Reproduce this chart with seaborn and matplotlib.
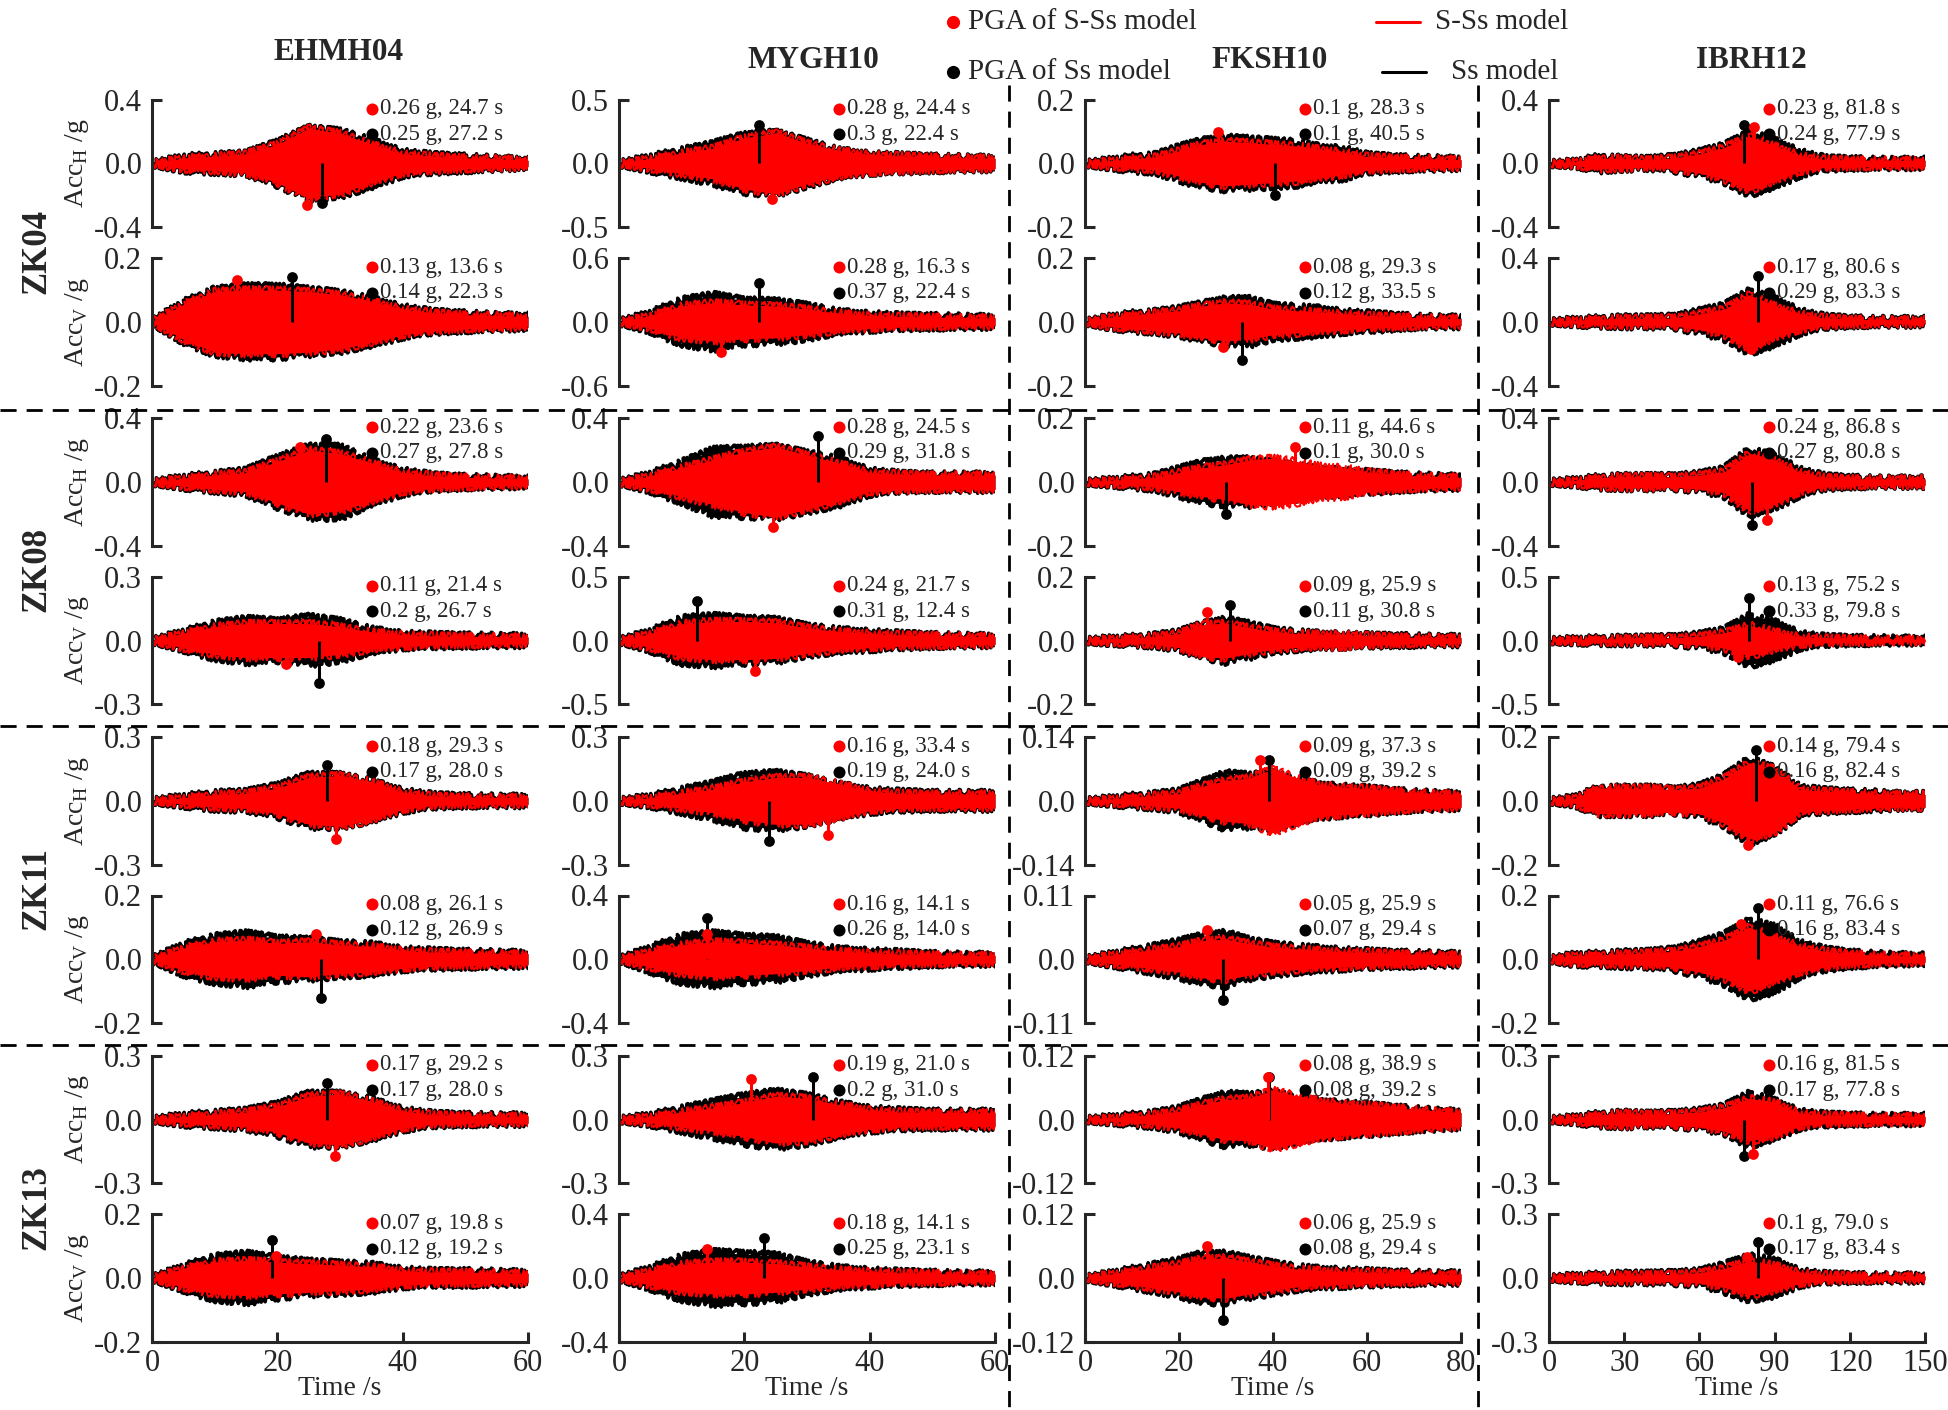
import matplotlib
matplotlib.use('Agg')
import matplotlib.pyplot as plt
import seaborn as sns
import numpy as np

# ---------------- data ----------------
stations = ['EHMH04', 'MYGH10', 'FKSH10', 'IBRH12']
sites = ['ZK04', 'ZK08', 'ZK11', 'ZK13']
t_max = [60, 60, 80, 150]
x_ticks = [[0, 20, 40, 60], [0, 20, 40, 60], [0, 20, 40, 60, 80], [0, 30, 60, 90, 120, 150]]

# envelope sample times (s) for each column
knots_60 = [0, 5, 10, 15, 20, 25, 30, 35, 40, 45, 50, 55, 60]
knots_80 = [0, 5, 10, 15, 20, 25, 30, 35, 40, 45, 50, 55, 60, 65, 70, 75, 80]
knots_150 = [0, 10, 20, 30, 40, 50, 60, 70, 80, 90, 100, 110, 120, 130, 140, 150]

# axis half-ranges (g), rows = sites, cols = stations
ylim_h = [[0.4, 0.5, 0.2, 0.4], [0.4, 0.4, 0.2, 0.4], [0.3, 0.3, 0.14, 0.2], [0.3, 0.3, 0.12, 0.3]]
ylim_v = [[0.2, 0.6, 0.2, 0.4], [0.3, 0.5, 0.2, 0.5], [0.2, 0.4, 0.11, 0.2], [0.2, 0.4, 0.12, 0.3]]

# amplitude envelopes (g), one list per site: ZK04, ZK08, ZK11, ZK13
ehmh04_h_ss = [[0, 0.04, 0.05, 0.06, 0.13, 0.22, 0.2, 0.14, 0.07, 0.05, 0.04, 0.03, 0.02],
               [0, 0.03, 0.05, 0.07, 0.15, 0.22, 0.22, 0.13, 0.07, 0.04, 0.03, 0.025, 0.02],
               [0, 0.02, 0.035, 0.04, 0.07, 0.12, 0.12, 0.09, 0.045, 0.025, 0.02, 0.018, 0.018],
               [0, 0.02, 0.03, 0.04, 0.07, 0.12, 0.12, 0.09, 0.045, 0.025, 0.02, 0.018, 0.018]]
ehmh04_h_sss = [[0, 0.035, 0.045, 0.06, 0.12, 0.22, 0.19, 0.12, 0.06, 0.045, 0.035, 0.03, 0.02],
                [0, 0.025, 0.045, 0.06, 0.13, 0.2, 0.18, 0.12, 0.06, 0.04, 0.03, 0.025, 0.02],
                [0, 0.015, 0.03, 0.035, 0.06, 0.11, 0.12, 0.09, 0.04, 0.022, 0.018, 0.016, 0.016],
                [0, 0.015, 0.025, 0.035, 0.06, 0.11, 0.12, 0.085, 0.04, 0.022, 0.018, 0.016, 0.016]]
ehmh04_v_ss = [[0, 0.06, 0.1, 0.11, 0.11, 0.1, 0.09, 0.07, 0.045, 0.03, 0.025, 0.02, 0.018],
               [0, 0.04, 0.08, 0.1, 0.09, 0.11, 0.09, 0.05, 0.03, 0.025, 0.022, 0.02, 0.018],
               [0, 0.045, 0.07, 0.08, 0.065, 0.06, 0.05, 0.045, 0.03, 0.025, 0.022, 0.02, 0.018],
               [0, 0.035, 0.065, 0.075, 0.06, 0.05, 0.045, 0.04, 0.025, 0.02, 0.02, 0.018, 0.016]]
ehmh04_v_sss = [[0, 0.055, 0.095, 0.1, 0.1, 0.095, 0.085, 0.065, 0.04, 0.028, 0.022, 0.02, 0.015],
                [0, 0.035, 0.065, 0.08, 0.08, 0.08, 0.065, 0.04, 0.028, 0.022, 0.02, 0.018, 0.015],
                [0, 0.035, 0.055, 0.06, 0.05, 0.055, 0.045, 0.04, 0.028, 0.022, 0.02, 0.018, 0.016],
                [0, 0.03, 0.05, 0.055, 0.05, 0.045, 0.04, 0.035, 0.022, 0.018, 0.018, 0.016, 0.014]]

mygh10_h_ss = [[0, 0.05, 0.1, 0.15, 0.22, 0.24, 0.17, 0.1, 0.07, 0.06, 0.05, 0.045, 0.04],
               [0, 0.05, 0.12, 0.2, 0.21, 0.22, 0.18, 0.14, 0.07, 0.05, 0.045, 0.045, 0.045],
               [0, 0.02, 0.05, 0.08, 0.12, 0.13, 0.11, 0.075, 0.05, 0.04, 0.035, 0.035, 0.035],
               [0, 0.02, 0.05, 0.08, 0.11, 0.13, 0.11, 0.075, 0.05, 0.04, 0.035, 0.035, 0.035]]
mygh10_h_sss = [[0, 0.04, 0.08, 0.12, 0.2, 0.24, 0.16, 0.1, 0.07, 0.06, 0.05, 0.045, 0.04],
                [0, 0.04, 0.09, 0.14, 0.19, 0.22, 0.17, 0.12, 0.06, 0.05, 0.045, 0.045, 0.045],
                [0, 0.015, 0.035, 0.055, 0.09, 0.11, 0.11, 0.08, 0.045, 0.035, 0.032, 0.032, 0.032],
                [0, 0.015, 0.035, 0.055, 0.08, 0.11, 0.1, 0.07, 0.045, 0.035, 0.032, 0.032, 0.032]]
mygh10_v_ss = [[0, 0.08, 0.2, 0.25, 0.2, 0.19, 0.15, 0.09, 0.07, 0.055, 0.05, 0.045, 0.04],
               [0, 0.07, 0.17, 0.19, 0.17, 0.16, 0.11, 0.08, 0.065, 0.05, 0.04, 0.035, 0.03],
               [0, 0.07, 0.14, 0.16, 0.14, 0.13, 0.09, 0.06, 0.05, 0.04, 0.03, 0.025, 0.025],
               [0, 0.06, 0.13, 0.16, 0.15, 0.14, 0.09, 0.06, 0.045, 0.035, 0.03, 0.025, 0.025]]
mygh10_v_sss = [[0, 0.06, 0.15, 0.18, 0.16, 0.15, 0.12, 0.08, 0.06, 0.05, 0.045, 0.04, 0.035],
                [0, 0.055, 0.13, 0.15, 0.15, 0.14, 0.1, 0.07, 0.055, 0.045, 0.04, 0.035, 0.03],
                [0, 0.05, 0.09, 0.11, 0.1, 0.09, 0.07, 0.05, 0.04, 0.032, 0.028, 0.024, 0.024],
                [0, 0.045, 0.085, 0.1, 0.1, 0.09, 0.07, 0.05, 0.04, 0.032, 0.028, 0.024, 0.024]]

fksh10_h_ss = [[0, 0.01, 0.02, 0.025, 0.05, 0.07, 0.08, 0.075, 0.07, 0.065, 0.05, 0.045, 0.025, 0.02, 0.016, 0.015, 0.012],
               [0, 0.006, 0.013, 0.02, 0.04, 0.06, 0.07, 0.07, 0.06, 0.05, 0.04, 0.035, 0.03, 0.025, 0.02, 0.018, 0.015],
               [0, 0.005, 0.01, 0.014, 0.02, 0.04, 0.06, 0.055, 0.06, 0.045, 0.035, 0.03, 0.027, 0.022, 0.018, 0.016, 0.014],
               [0, 0.004, 0.008, 0.012, 0.02, 0.035, 0.048, 0.045, 0.05, 0.04, 0.034, 0.03, 0.027, 0.023, 0.019, 0.016, 0.013]]
fksh10_h_sss = [[0, 0.008, 0.015, 0.02, 0.04, 0.06, 0.07, 0.065, 0.06, 0.055, 0.045, 0.035, 0.022, 0.018, 0.015, 0.014, 0.012],
                [0, 0.005, 0.01, 0.016, 0.03, 0.045, 0.055, 0.07, 0.075, 0.065, 0.05, 0.045, 0.032, 0.025, 0.02, 0.018, 0.015],
                [0, 0.004, 0.008, 0.012, 0.016, 0.032, 0.045, 0.05, 0.07, 0.05, 0.035, 0.03, 0.027, 0.022, 0.018, 0.016, 0.014],
                [0, 0.003, 0.006, 0.01, 0.016, 0.028, 0.038, 0.04, 0.055, 0.045, 0.035, 0.03, 0.027, 0.023, 0.019, 0.016, 0.013]]
fksh10_v_ss = [[0, 0.015, 0.025, 0.03, 0.04, 0.055, 0.07, 0.07, 0.05, 0.045, 0.04, 0.03, 0.025, 0.02, 0.015, 0.013, 0.012],
               [0, 0.006, 0.01, 0.015, 0.025, 0.05, 0.065, 0.05, 0.032, 0.025, 0.02, 0.018, 0.015, 0.013, 0.012, 0.01, 0.01],
               [0, 0.008, 0.015, 0.022, 0.03, 0.04, 0.045, 0.032, 0.025, 0.021, 0.018, 0.015, 0.013, 0.011, 0.01, 0.009, 0.008],
               [0, 0.008, 0.016, 0.024, 0.032, 0.045, 0.045, 0.035, 0.027, 0.02, 0.016, 0.014, 0.012, 0.01, 0.009, 0.008, 0.008]]
fksh10_v_sss = [[0, 0.014, 0.022, 0.028, 0.035, 0.05, 0.06, 0.055, 0.04, 0.035, 0.03, 0.025, 0.02, 0.017, 0.014, 0.012, 0.01],
                [0, 0.005, 0.009, 0.013, 0.022, 0.05, 0.055, 0.04, 0.028, 0.022, 0.02, 0.02, 0.015, 0.012, 0.01, 0.01, 0.008],
                [0, 0.007, 0.012, 0.017, 0.022, 0.032, 0.035, 0.027, 0.021, 0.018, 0.015, 0.013, 0.012, 0.01, 0.009, 0.008, 0.007],
                [0, 0.007, 0.013, 0.02, 0.026, 0.036, 0.038, 0.03, 0.023, 0.017, 0.014, 0.012, 0.011, 0.009, 0.008, 0.007, 0.007]]

ibrh12_h_ss = [[0, 0.01, 0.04, 0.03, 0.025, 0.04, 0.07, 0.11, 0.19, 0.14, 0.07, 0.03, 0.025, 0.02, 0.02, 0.02],
               [0, 0.012, 0.03, 0.035, 0.035, 0.035, 0.05, 0.08, 0.2, 0.16, 0.075, 0.035, 0.025, 0.02, 0.02, 0.02],
               [0, 0.01, 0.04, 0.04, 0.04, 0.035, 0.045, 0.075, 0.13, 0.1, 0.04, 0.032, 0.028, 0.025, 0.02, 0.02],
               [0, 0.01, 0.025, 0.03, 0.025, 0.03, 0.04, 0.06, 0.12, 0.085, 0.035, 0.022, 0.018, 0.015, 0.015, 0.015]]
ibrh12_h_sss = [[0, 0.01, 0.035, 0.03, 0.022, 0.035, 0.06, 0.1, 0.17, 0.11, 0.05, 0.025, 0.022, 0.02, 0.02, 0.02],
                [0, 0.01, 0.028, 0.035, 0.035, 0.032, 0.045, 0.065, 0.18, 0.14, 0.06, 0.03, 0.022, 0.02, 0.02, 0.02],
                [0, 0.008, 0.04, 0.04, 0.04, 0.035, 0.04, 0.07, 0.12, 0.1, 0.035, 0.03, 0.026, 0.022, 0.02, 0.02],
                [0, 0.008, 0.022, 0.03, 0.024, 0.028, 0.036, 0.055, 0.1, 0.08, 0.03, 0.02, 0.017, 0.015, 0.015, 0.015]]
ibrh12_v_ss = [[0, 0.012, 0.02, 0.025, 0.025, 0.03, 0.065, 0.1, 0.19, 0.14, 0.065, 0.03, 0.02, 0.015, 0.015, 0.015],
               [0, 0.01, 0.015, 0.018, 0.02, 0.025, 0.045, 0.08, 0.19, 0.14, 0.05, 0.025, 0.018, 0.015, 0.012, 0.012],
               [0, 0.014, 0.016, 0.02, 0.022, 0.03, 0.05, 0.075, 0.12, 0.1, 0.05, 0.03, 0.02, 0.015, 0.012, 0.01],
               [0, 0.01, 0.014, 0.018, 0.018, 0.022, 0.03, 0.06, 0.1, 0.08, 0.03, 0.016, 0.012, 0.01, 0.01, 0.01]]
ibrh12_v_sss = [[0, 0.01, 0.018, 0.022, 0.022, 0.025, 0.05, 0.08, 0.17, 0.1, 0.05, 0.025, 0.018, 0.014, 0.013, 0.013],
                [0, 0.008, 0.012, 0.015, 0.018, 0.02, 0.035, 0.06, 0.12, 0.07, 0.03, 0.018, 0.014, 0.012, 0.01, 0.01],
                [0, 0.012, 0.014, 0.017, 0.02, 0.025, 0.04, 0.06, 0.1, 0.07, 0.04, 0.025, 0.017, 0.013, 0.011, 0.009],
                [0, 0.008, 0.012, 0.015, 0.015, 0.018, 0.025, 0.045, 0.08, 0.06, 0.025, 0.014, 0.011, 0.009, 0.009, 0.009]]

# PGA (g), time (s) and sign of the peak; rows = sites, cols = stations
pga_h_sss = [[0.26, 0.28, 0.1, 0.23], [0.22, 0.28, 0.11, 0.24], [0.18, 0.16, 0.09, 0.14], [0.17, 0.19, 0.08, 0.16]]
tpk_h_sss = [[24.7, 24.4, 28.3, 81.8], [23.6, 24.5, 44.6, 86.8], [29.3, 33.4, 37.3, 79.4], [29.2, 21.0, 38.9, 81.5]]
sgn_h_sss = [[-1, -1, 1, 1], [1, -1, 1, -1], [-1, -1, 1, -1], [-1, 1, 1, -1]]
pga_h_ss = [[0.25, 0.3, 0.1, 0.24], [0.27, 0.29, 0.1, 0.27], [0.17, 0.19, 0.09, 0.16], [0.17, 0.2, 0.08, 0.17]]
tpk_h_ss = [[27.2, 22.4, 40.5, 77.9], [27.8, 31.8, 30.0, 80.8], [28.0, 24.0, 39.2, 82.4], [28.0, 31.0, 39.2, 77.8]]
sgn_h_ss = [[-1, 1, -1, 1], [1, 1, -1, -1], [1, -1, 1, 1], [1, 1, 1, -1]]
pga_v_sss = [[0.13, 0.28, 0.08, 0.17], [0.11, 0.24, 0.09, 0.13], [0.08, 0.16, 0.05, 0.11], [0.07, 0.18, 0.06, 0.1]]
tpk_v_sss = [[13.6, 16.3, 29.3, 80.6], [21.4, 21.7, 25.9, 75.2], [26.1, 14.1, 25.9, 76.6], [19.8, 14.1, 25.9, 79.0]]
sgn_v_sss = [[1, -1, -1, -1], [-1, -1, 1, -1], [1, 1, 1, 1], [1, 1, 1, 1]]
pga_v_ss = [[0.14, 0.37, 0.12, 0.29], [0.2, 0.31, 0.11, 0.33], [0.12, 0.26, 0.07, 0.16], [0.12, 0.25, 0.08, 0.17]]
tpk_v_ss = [[22.3, 22.4, 33.5, 83.3], [26.7, 12.4, 30.8, 79.8], [26.9, 14.0, 29.4, 83.4], [19.2, 23.1, 29.4, 83.4]]
sgn_v_ss = [[1, 1, -1, 1], [-1, 1, 1, 1], [-1, 1, -1, 1], [1, 1, -1, 1]]

knots = [knots_60, knots_60, knots_80, knots_150]
env = {
    'H': {'ss': [ehmh04_h_ss, mygh10_h_ss, fksh10_h_ss, ibrh12_h_ss],
          'sss': [ehmh04_h_sss, mygh10_h_sss, fksh10_h_sss, ibrh12_h_sss]},
    'V': {'ss': [ehmh04_v_ss, mygh10_v_ss, fksh10_v_ss, ibrh12_v_ss],
          'sss': [ehmh04_v_sss, mygh10_v_sss, fksh10_v_sss, ibrh12_v_sss]},
}
peaks = {
    'H': {'ss': (pga_h_ss, tpk_h_ss, sgn_h_ss), 'sss': (pga_h_sss, tpk_h_sss, sgn_h_sss)},
    'V': {'ss': (pga_v_ss, tpk_v_ss, sgn_v_ss), 'sss': (pga_v_sss, tpk_v_sss, sgn_v_sss)},
}
ylims = {'H': ylim_h, 'V': ylim_v}

# ---------------- style ----------------
sns.set_theme(style='ticks')
plt.rcParams['font.family'] = ['Liberation Serif', 'DejaVu Serif']
plt.rcParams['mathtext.fontset'] = 'custom'
plt.rcParams['mathtext.rm'] = 'Liberation Serif'
plt.rcParams['axes.unicode_minus'] = False

RED = '#ff0000'
BLK = '#000000'
W, H = 1949, 1410
fig = plt.figure(figsize=(W / 100, H / 100), dpi=100)

col_left = [152, 619, 1085, 1549]
pw, ph = 376, 127.5
row_pitch = 318.7
first_top = 99.7
vt_offset = 158.4

for r, site in enumerate(sites):
    for comp_i, comp in enumerate(['H', 'V']):
        top = first_top + r * row_pitch + comp_i * vt_offset
        for c, st in enumerate(stations):
            ax = fig.add_axes([col_left[c] / W, 1 - (top + ph) / H, pw / W, ph / H])
            ax.set_facecolor('none')
            kx = knots[c]
            # Ss model (black) below, S-Ss model (red) on top
            for model, colr, edge in [('ss', BLK, 2.6), ('sss', RED, 1.4)]:
                e = np.array(env[comp][model][c][r])
                ax.fill_between(kx, -e, e, color=colr, linewidth=0, zorder=2)
                n0 = len(ax.lines)
                sns.lineplot(x=kx, y=e, color=colr, lw=edge, ax=ax, zorder=2)
                sns.lineplot(x=kx, y=-e, color=colr, lw=edge, ax=ax, zorder=2)
                # jagged rendering of the envelope edge, waveform-like look
                for ln in ax.lines[n0:]:
                    ln.set_sketch_params(scale=4, length=3, randomness=6)
            for model, colr in [('ss', BLK), ('sss', RED)]:
                p, t, s = peaks[comp][model]
                yv = p[r][c] * s[r][c]
                ax.vlines(t[r][c], 0, yv, color=colr, lw=2.2, zorder=3)
                sns.scatterplot(x=[t[r][c]], y=[yv], color=colr, s=60, linewidth=0, ax=ax, zorder=4)
            # PGA annotation
            for k, (model, colr) in enumerate([('sss', RED), ('ss', BLK)]):
                p, t, s = peaks[comp][model]
                yy = 0.93 - 0.2 * k
                ax.scatter([0.585], [yy], s=75, color=colr, transform=ax.transAxes,
                           clip_on=False, linewidth=0, zorder=5)
                ax.text(0.607, yy, f'{p[r][c]:g} g, {t[r][c]:.1f} s', transform=ax.transAxes,
                        fontsize=16.5, va='center', ha='left', zorder=5)

            ym = ylims[comp][r][c]
            ax.set_xlim(0, t_max[c])
            ax.set_ylim(-ym, ym)
            ax.set_yticks([-ym, 0, ym])
            ax.set_yticklabels([f'-{ym:g}', '0.0', f'{ym:g}'])
            for sp in ['top', 'right']:
                ax.spines[sp].set_visible(False)
            ax.spines['left'].set_linewidth(2.2)
            ax.spines['bottom'].set_linewidth(2.2)
            ax.tick_params(axis='y', direction='in', length=7, width=2.2, labelsize=22, pad=7)
            last = (r == 3 and comp == 'V')
            if last:
                ax.set_xticks(x_ticks[c])
                ax.tick_params(axis='x', direction='in', length=7, width=2.2, labelsize=22, pad=5)
                ax.set_xlabel('Time /s', fontsize=20, labelpad=-1)
            else:
                ax.spines['bottom'].set_visible(False)
                ax.set_xticks([])
                ax.set_xlabel('')
            ax.set_ylabel('')
            if c == 0:
                fig.text(77 / W, 1 - (top + ph / 2) / H, f'Acc$_\\mathregular{{{comp}}}$ /g',
                         rotation=90, fontsize=20, ha='center', va='center')
    mid = first_top + r * row_pitch + 0.53 * (vt_offset + ph)
    fig.text(37 / W, 1 - mid / H, site, rotation=90, fontsize=25, fontweight='bold',
             ha='center', va='center')

# station titles
title_pos = [(339, 53), (813, 61), (1270, 61), (1751, 61)]
for st, (tx, ty) in zip(stations, title_pos):
    fig.text(tx / W, 1 - ty / H, st, fontsize=22.5, fontweight='bold', ha='center', va='center')

# overlay in pixel coordinates for legend and separators
ov = fig.add_axes([0, 0, 1, 1])
ov.set_xlim(0, W)
ov.set_ylim(H, 0)
ov.axis('off')
dash = (0, (5.8, 3.6))
for yy in [410, 725.6, 1044.7]:
    ov.plot([0, W], [yy, yy], color=BLK, lw=2, ls=dash)
for xx in [1009, 1478]:
    ov.plot([xx, xx], [85, H], color=BLK, lw=2, ls=dash)

ov.scatter([953], [22], s=90, color=RED, linewidth=0)
ov.scatter([953], [72], s=90, color=BLK, linewidth=0)
ov.text(968, 22, 'PGA of S-Ss model', fontsize=21, va='center', ha='left')
ov.text(968, 72, 'PGA of Ss model', fontsize=21, va='center', ha='left')
ov.plot([1376, 1420], [22, 22], color=RED, lw=2.2)
ov.plot([1382, 1426], [72, 72], color=BLK, lw=2.2)
ov.text(1435, 22, 'S-Ss model', fontsize=21, va='center', ha='left')
ov.text(1451, 72, 'Ss model', fontsize=21, va='center', ha='left')

fig.savefig('out.png', dpi=100)
